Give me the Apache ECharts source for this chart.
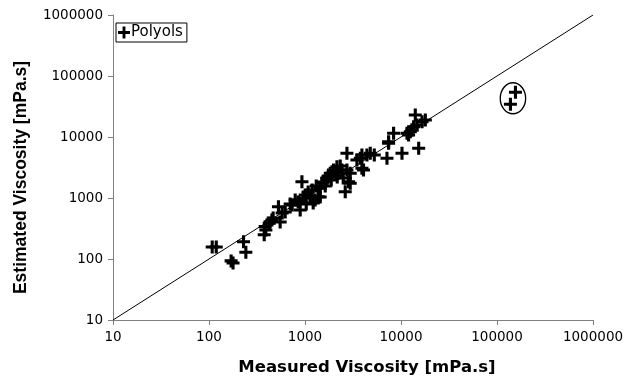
<!DOCTYPE html>
<html><head><meta charset="utf-8">
<script src="https://cdn.jsdelivr.net/npm/echarts@6/dist/echarts.min.js"></script>
<style>html,body{margin:0;padding:0;background:#fff}#c{width:636px;height:381px}</style>
</head><body><div id="c"></div>
<script>
// Measured viscosity [mPa.s]
var measured = [108,119,170,178,229,242,376,391,385,424,452,551,529,701,791,891,929,1005,1132,1276,
  1374,1442,1500,1691,1832,1983,2151,2235,2425,2625,2734,2842,2958,2734,2958,3475,3917,4070,4418,4783,
  3917,3767,5270,7143,7425,8375,7425,10240,11550,12000,13030,14680,15280,13530,14090,16560,17920,12500,138000,155700,
  622,735,849,958,1079,1189,1309,1549,1746,2065,2328,1625,1876,2167,2502,1030,1217,1439,578,466];
// Estimated viscosity [mPa.s]
var estimated = [157,157,93,86,192,129,250,299,339,385,436,404,720,798,927,635,1850,1120,1050,927,
  1050,1442,1742,2105,2542,2880,3261,2542,2880,1268,2880,1850,2542,5408,1742,4197,5070,2880,5070,5408,
  3069,4477,5070,4477,7882,11510,8375,5408,11510,10790,13030,15740,6532,14750,22960,17830,19010,12210,34360,54080,
  589,768,859,1000,1254,1353,1573,1829,2295,2668,3350,1573,1972,2209,2128,798,828,1038,568,470];
var axisTicks = [10,100,1000,10000,100000,1000000];
var parityLine = [[10,10],[1000000,1000000]];
var seriesName = 'Polyols';
var outlierIdx = [58,59];

var pts = measured.map(function(v,i){return [v, estimated[i]];});
var plus = 'path://M3.8,0H6.2V3.8H10V6.2H6.2V10H3.8V6.2H0V3.8H3.8Z';
var wide = '"DejaVu Sans", sans-serif';
var arial = '"Liberation Sans", Arial, sans-serif';
var chart = echarts.init(document.getElementById('c'));
var axisCommon = {
  type:'log', logBase:10, min:axisTicks[0], max:axisTicks[axisTicks.length-1],
  nameLocation:'middle',
  axisLine:{show:true, onZero:false, lineStyle:{color:'#808080', width:1}},
  axisTick:{show:true, length:5, lineStyle:{color:'#808080'}},
  minorTick:{show:false}, splitLine:{show:false},
  axisLabel:{fontFamily:wide, fontSize:13.5, color:'#000', margin:10,
    formatter:function(v){return String(Math.round(v));}}
};
chart.setOption({
  animation:false,
  grid:{left:113, right:43, top:15, bottom:61, outerBoundsMode:'none', containLabel:false},
  xAxis:Object.assign({}, axisCommon, {name:'Measured Viscosity [mPa.s]', nameGap:39,
     nameTextStyle:{fontFamily:wide, fontWeight:'bold', fontSize:16.5, color:'#000', padding:[0,0,0,28]}}),
  yAxis:Object.assign({}, axisCommon, {name:'Estimated Viscosity [mPa.s]', nameGap:83,
     nameTextStyle:{fontFamily:arial, fontWeight:'bold', fontSize:17.5, color:'#000', padding:[0,20,0,0]}}),
  legend:{left:116, top:23, orient:'vertical', data:[{name:seriesName, icon:plus}],
    itemWidth:12, itemHeight:12, itemGap:2, padding:[2,4,2,2], borderColor:'#000', borderWidth:1,
    textStyle:{fontFamily:wide, fontSize:15, color:'#000', padding:[0,0,0,-4]}},
  series:[
    {type:'line', data:parityLine, symbol:'none', silent:true, lineStyle:{color:'#000', width:1}, z:1},
    {type:'scatter', name:seriesName, data:pts, symbol:plus, symbolSize:13, itemStyle:{color:'#000', opacity:1}, z:2}
  ]
});
// ellipse around the outliers
var a = chart.convertToPixel({seriesIndex:1}, pts[outlierIdx[0]]);
var b = chart.convertToPixel({seriesIndex:1}, pts[outlierIdx[1]]);
var cx = (a[0]+b[0])/2, cy = (a[1]+b[1])/2;
chart.setOption({graphic:[{type:'circle', x:cx, y:cy, scaleX:0.82, scaleY:1, shape:{cx:0, cy:0, r:15.5},
  style:{fill:'none', stroke:'#000', lineWidth:1.6, strokeNoScale:true}}]});
</script></body></html>
